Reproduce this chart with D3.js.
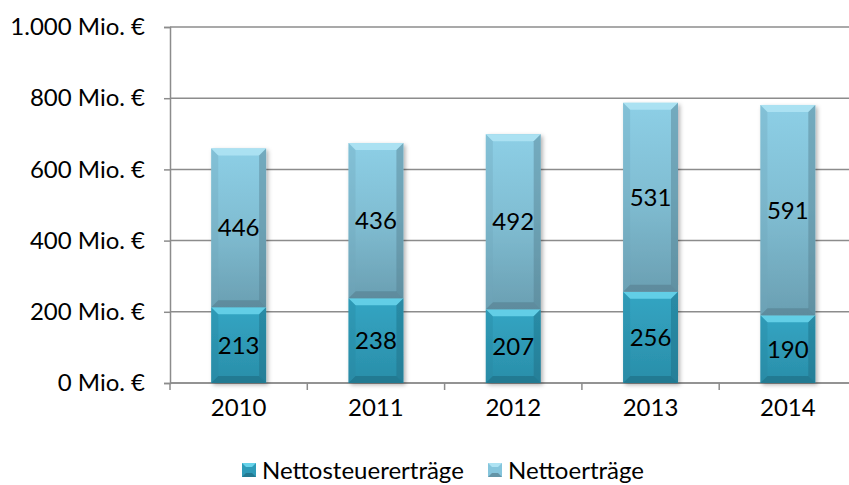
<!DOCTYPE html>
<html><head><meta charset="utf-8">
<script src="https://cdn.jsdelivr.net/npm/d3@7"></script>
<style>
body{margin:0;background:#fff;}
svg{display:block;font-family:Lato, "Open Sans", sans-serif;}
</style></head>
<body><svg id="c" width="849" height="485"></svg>
<script>
const years = ["2010","2011","2012","2013","2014"];
const nettosteuer = [213,238,207,256,190];
const netto = [446,436,492,531,591];
const yTicks = [0,200,400,600,800,1000];
const seriesNames = ["Nettosteuererträge","Nettoerträge"];

const FS = 24;
const svg = d3.select("#c");
const m = {left:170, top:27, bottom:383, right:856.5};
const x = d3.scaleBand().domain(years).range([m.left,m.right]).paddingInner(0.6).paddingOuter(0.3);
const y = d3.scaleLinear().domain([0,1000]).range([m.bottom,m.top]);
const fmt = v => (v>=1000 ? d3.format(",")(v).replace(",",".") : v) + " Mio. €";

const defs = svg.append("defs");
function grad(id, stops){
  const g = defs.append("linearGradient").attr("id",id).attr("x1",0).attr("y1",0).attr("x2",0).attr("y2",1);
  stops.forEach(s=>g.append("stop").attr("offset",s[0]).attr("stop-color",s[1]));
}
grad("gA",[[0,"#33a5c3"],[1,"#2a8ea9"]]);
grad("gB",[[0,"#8dcfe6"],[0.5,"#80bdd2"],[1,"#6a9fb2"]]);
const filt = defs.append("filter").attr("id","sh").attr("x","-20%").attr("y","-10%").attr("width","150%").attr("height","130%");
filt.append("feDropShadow").attr("dx",2).attr("dy",2).attr("stdDeviation",2).attr("flood-color","#000").attr("flood-opacity",0.3);

// gridlines
svg.append("g").selectAll("line").data(yTicks).join("line")
  .attr("x1",m.left).attr("x2",849).attr("y1",d=>y(d)).attr("y2",d=>y(d))
  .attr("stroke","#8c8c8c").attr("stroke-width",1.5);

// y axis
const ya = svg.append("g").attr("transform",`translate(${m.left},0)`)
  .call(d3.axisLeft(y).tickValues(yTicks).tickFormat(fmt).tickSize(6).tickPadding(19));
ya.select(".domain").attr("stroke","#8c8c8c").attr("stroke-width",1.5);
ya.selectAll(".tick line").attr("stroke","#8c8c8c").attr("stroke-width",1.5);
ya.selectAll("text").attr("font-size",FS).attr("fill","#000").attr("font-family","Lato");

// x axis
const xa = svg.append("g").attr("transform",`translate(0,${m.bottom})`);
xa.append("line").attr("x1",m.left).attr("x2",849).attr("stroke","#8c8c8c").attr("stroke-width",1.5);
const step = x.step();
xa.selectAll(".tk").data(d3.range(years.length+1)).join("line").attr("class","tk")
  .attr("x1",i=>m.left+i*step).attr("x2",i=>m.left+i*step).attr("y1",0).attr("y2",7)
  .attr("stroke","#8c8c8c").attr("stroke-width",1.5);
xa.selectAll("text").data(years).join("text")
  .attr("x",d=>x(d)+x.bandwidth()/2).attr("y",33).attr("text-anchor","middle")
  .attr("font-size",FS).attr("fill","#000").text(d=>d);

// bars
const styles = [
  {fill:"url(#gA)", top:"#67d3ea", bot:"#1f6c82", side:"#2886a0"},
  {fill:"url(#gB)", top:"#aee3f3", bot:"#557f8f", side:"#6fa6ba"}
];
const bw = x.bandwidth(), bev = 7;
const data = years.map((yr,i)=>{
  const a = nettosteuer[i], b = netto[i];
  return {yr, segs:[{s:0,y0:0,y1:a,v:a},{s:1,y0:a,y1:a+b,v:b}]};
});
const gBars = svg.append("g");
data.forEach(d=>{
  const g = gBars.append("g").attr("filter","url(#sh)");
  const x0 = x(d.yr), x1 = x0+bw;
  d.segs.forEach(sg=>{
    const st = styles[sg.s];
    const t = y(sg.y1), b = y(sg.y0);
    const sgG = g.append("g");
    sgG.append("rect").attr("x",x0).attr("y",t).attr("width",bw).attr("height",b-t).attr("fill",st.fill);
    const poly = pts => pts.map(p=>p.join(",")).join(" ");
    sgG.append("polygon").attr("points",poly([[x0,t],[x1,t],[x1-bev,t+bev],[x0+bev,t+bev]])).attr("fill",st.top).attr("opacity",0.9);
    sgG.append("polygon").attr("points",poly([[x0,b],[x1,b],[x1-bev,b-bev],[x0+bev,b-bev]])).attr("fill",st.bot).attr("opacity",0.6);
    sgG.append("polygon").attr("points",poly([[x0,t],[x0+bev,t+bev],[x0+bev,b-bev],[x0,b]])).attr("fill",st.side).attr("opacity",0.35);
    sgG.append("polygon").attr("points",poly([[x1,t],[x1-bev,t+bev],[x1-bev,b-bev],[x1,b]])).attr("fill",st.bot).attr("opacity",0.45);
  });
});
// labels
data.forEach(d=>{
  d.segs.forEach(sg=>{
    svg.append("text").attr("x",x(d.yr)+bw/2).attr("y",(y(sg.y0)+y(sg.y1))/2)
      .attr("dy","0.36em").attr("text-anchor","middle").attr("font-size",FS).attr("fill","#000").text(sg.v);
  });
});

// legend
const leg = svg.append("g");
const legX = [242, 488];
seriesNames.forEach((n,i)=>{
  const st = styles[i];
  const gx = legX[i], gy = 463;
  const s = 14;
  leg.append("rect").attr("x",gx).attr("y",gy).attr("width",s).attr("height",s).attr("fill",i===0?"#2e9bb8":"#85c5dc");
  leg.append("polygon").attr("points",`${gx},${gy} ${gx+s},${gy} ${gx+s-4},${gy+4} ${gx+4},${gy+4}`).attr("fill",st.top);
  leg.append("polygon").attr("points",`${gx},${gy+s} ${gx+s},${gy+s} ${gx+s-4},${gy+s-4} ${gx+4},${gy+s-4}`).attr("fill",st.bot).attr("opacity",0.7);
  leg.append("text").attr("x",gx+s+6).attr("y",gy+s/2).attr("dy","0.36em").attr("font-size",FS).attr("fill","#000").text(n);
});
</script></body></html>
